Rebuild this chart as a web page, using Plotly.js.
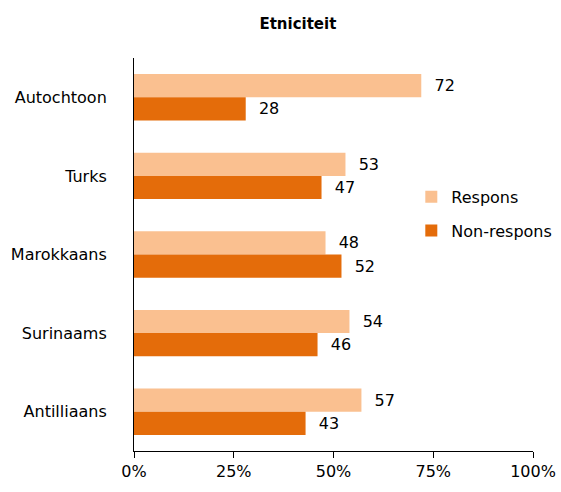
<!DOCTYPE html>
<html>
<head>
<meta charset="utf-8">
<script src="https://cdn.plot.ly/plotly-3.0.1.min.js"></script>
<style>html,body{margin:0;padding:0;background:#fff;}#chart{width:561px;height:492px;}</style>
</head>
<body>
<div id="chart"></div>
<script>
const categories = ["Autochtoon", "Turks", "Marokkaans", "Surinaams", "Antilliaans"];
const respons = [72, 53, 48, 54, 57];
const nonRespons = [28, 47, 52, 46, 43];
const xTickVals = [0, 25, 50, 75, 100];
const xTickText = ["0%", "25%", "50%", "75%", "100%"];

const font = "DejaVu Sans, Verdana, sans-serif";
const fs = 16;

const traces = [
  {
    type: "bar", orientation: "h", name: "Respons",
    y: categories, x: respons,
    texttemplate: "  %{x}", textposition: "outside",
    textfont: {family: font, size: fs, color: "#000"},
    marker: {color: "#FAC090"},
    legendgroup: "a", cliponaxis: false, hoverinfo: "none"
  },
  {
    type: "bar", orientation: "h", name: "Non-respons",
    y: categories, x: nonRespons,
    texttemplate: "  %{x}", textposition: "outside",
    textfont: {family: font, size: fs, color: "#000"},
    marker: {color: "#E46C0A"},
    legendgroup: "b", cliponaxis: false, hoverinfo: "none"
  }
];

const layout = {
  width: 561, height: 492,
  margin: {l: 134, r: 28, t: 58, b: 41, autoexpand: false},
  paper_bgcolor: "#fff", plot_bgcolor: "#fff",
  font: {family: font, size: fs, color: "#000"},
  title: {text: "<b>Etniciteit</b>", x: 0.531, xanchor: "center", y: 0.952, yanchor: "middle",
          font: {family: font, size: 15, color: "#000"}},
  barmode: "group",
  bargap: 0.41,
  bargroupgap: 0,
  showlegend: true,
  legend: {x: 0.695, y: 0.69, xanchor: "left", yanchor: "top",
           traceorder: "grouped", tracegroupgap: 10, itemwidth: 30,
           font: {family: font, size: fs, color: "#000"}, bgcolor: "rgba(0,0,0,0)"},
  xaxis: {
    range: [0, 100], tickvals: xTickVals, ticktext: xTickText, automargin: false,
    showgrid: false, zeroline: false, showline: true, linecolor: "#000", linewidth: 1,
    ticks: "outside", ticklen: 6, tickcolor: "#000", tickfont: {family: font, size: fs}
  },
  yaxis: {
    type: "category", autorange: "reversed", automargin: false,
    showgrid: false, zeroline: false, showline: true, linecolor: "#000", linewidth: 1,
    ticks: "", ticklabelstandoff: 23, tickfont: {family: font, size: fs}
  }
};

Plotly.newPlot("chart", traces, layout, {displayModeBar: false, staticPlot: true});
</script>
</body>
</html>
